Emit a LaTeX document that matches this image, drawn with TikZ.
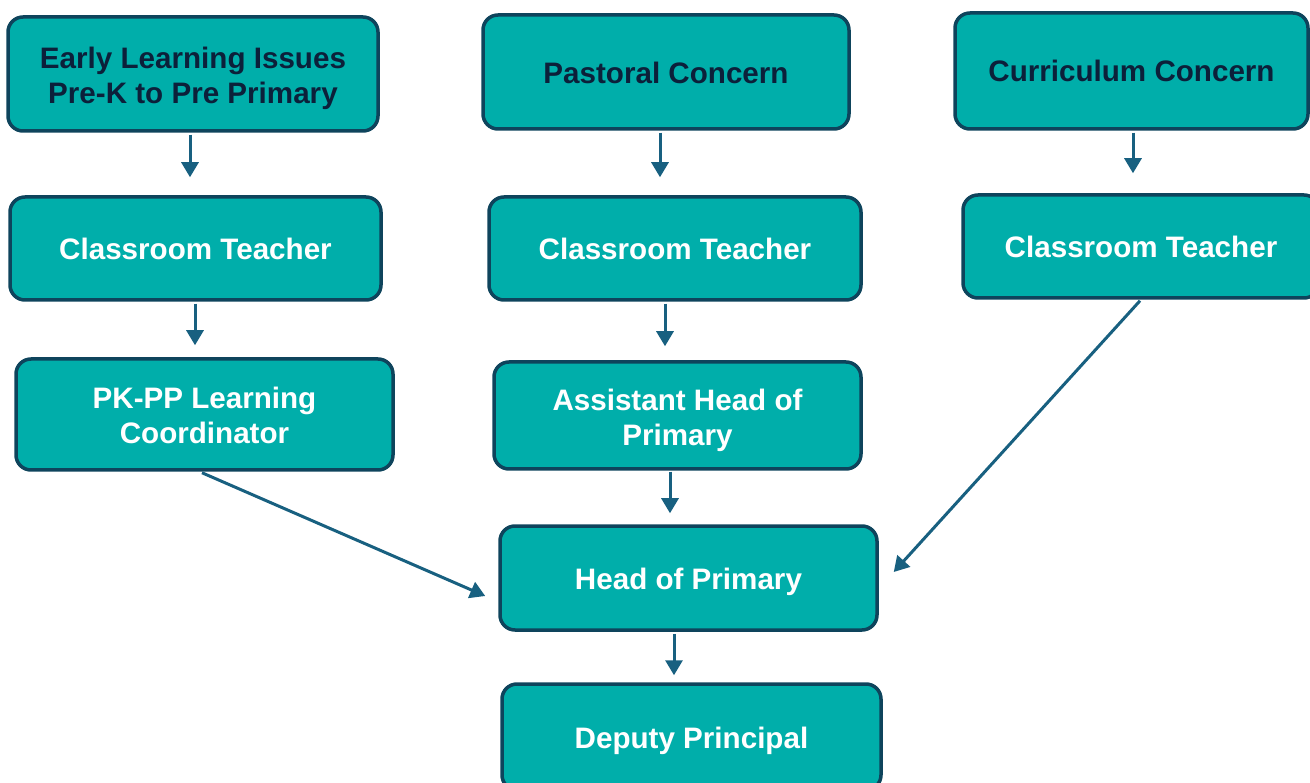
\documentclass[tikz,border=0pt]{standalone}
\usepackage{fontspec}
\setmainfont{Liberation Sans}
\usetikzlibrary{arrows.meta,calc}
\definecolor{boxfill}{RGB}{0,174,170}
\definecolor{boxline}{RGB}{14,68,92}
\definecolor{arrowcol}{RGB}{24,96,128}
\definecolor{darktext}{RGB}{12,32,58}
\begin{document}
\begin{tikzpicture}[x=1pt,y=-1pt,
  stage/.style={draw=boxline, line width=3.5pt, fill=boxfill, rounded corners=15pt,
    align=center, inner sep=0pt,
    font=\fontsize{29.6}{35}\selectfont\bfseries, text=white},
  oneline/.style={text height=29pt, text depth=6pt},
  topstage/.style={stage, text=darktext},
  flow/.style={draw=arrowcol, line width=3pt, -{Triangle[width=17pt,length=15pt]}}]
\useasboundingbox (0,0) rectangle (1310,783);

% first row: where concerns come from
\node[topstage, minimum width=370pt, minimum height=114pt, text height=65pt] (early) at (193,74)
  {Early Learning Issues\\Pre-K to Pre Primary};
\node[topstage, oneline, minimum width=366pt, minimum height=114pt] (pastoral) at (666,72)
  {Pastoral Concern};
\node[topstage, oneline, minimum width=353pt, minimum height=116pt, text height=27pt] (curric) at (1131.5,71)
  {Curriculum Concern};

% second row
\node[stage, oneline, minimum width=371pt, minimum height=103pt] (ctA) at (195.5,248.5) {Classroom Teacher};
\node[stage, oneline, minimum width=372pt, minimum height=103pt] (ctB) at (675,248.5) {Classroom Teacher};
\node[stage, oneline, minimum width=356pt, minimum height=103pt] (ctC) at (1141,246.5) {Classroom Teacher};

% third row
\node[stage, minimum width=377pt, minimum height=111pt, text height=59pt] (pkpp) at (204.5,414.5)
  {PK-PP Learning\\Coordinator};
\node[stage, minimum width=367pt, minimum height=107pt, text height=66pt] (ahead) at (677.5,415.5)
  {Assistant Head of\\Primary};

% final escalation
\node[stage, oneline, minimum width=377pt, minimum height=104pt] (head) at (688.5,578) {Head of Primary};
\node[stage, oneline, minimum width=379pt, minimum height=106pt] (deputy) at (691.5,737) {Deputy Principal};

% start points of the vertical steps
\coordinate (sA) at ($(early.south)+(-3,2)$);
\coordinate (sB) at ($(pastoral.south)+(-6,2)$);
\coordinate (sC) at ($(curric.south)+(1.5,2)$);
\coordinate (sD) at ($(ctA.south)+(-0.5,2)$);
\coordinate (sE) at ($(ctB.south)+(-10,2)$);
\coordinate (sF) at ($(ahead.south)+(-7.5,1)$);
\coordinate (sG) at ($(head.south)+(-14.5,2)$);

% vertical steps
\draw[flow] (sA) -- ($(sA |- ctA.north)+(0,-18)$);
\draw[flow] (sB) -- ($(sB |- ctB.north)+(0,-18)$);
\draw[flow] (sC) -- ($(sC |- ctC.north)+(0,-20)$);
\draw[flow] (sD) -- ($(sD |- pkpp.north)+(0,-12)$);
\draw[flow] (sE) -- ($(sE |- ahead.north)+(0,-14)$);
\draw[flow] (sF) -- ($(sF |- head.north)+(0,-11)$);
\draw[flow] (sG) -- ($(sG |- deputy.north)+(0,-7)$);

% diagonal routes into Head of Primary
\draw[flow] ($(pkpp.south)+(-2.5,1)$) -- ($(head.west)+(-13,18)$);
\draw[flow] ($(ctC.south)+(-1,1)$) -- ($(head.east)+(15,-6)$);
\end{tikzpicture}
\end{document}
